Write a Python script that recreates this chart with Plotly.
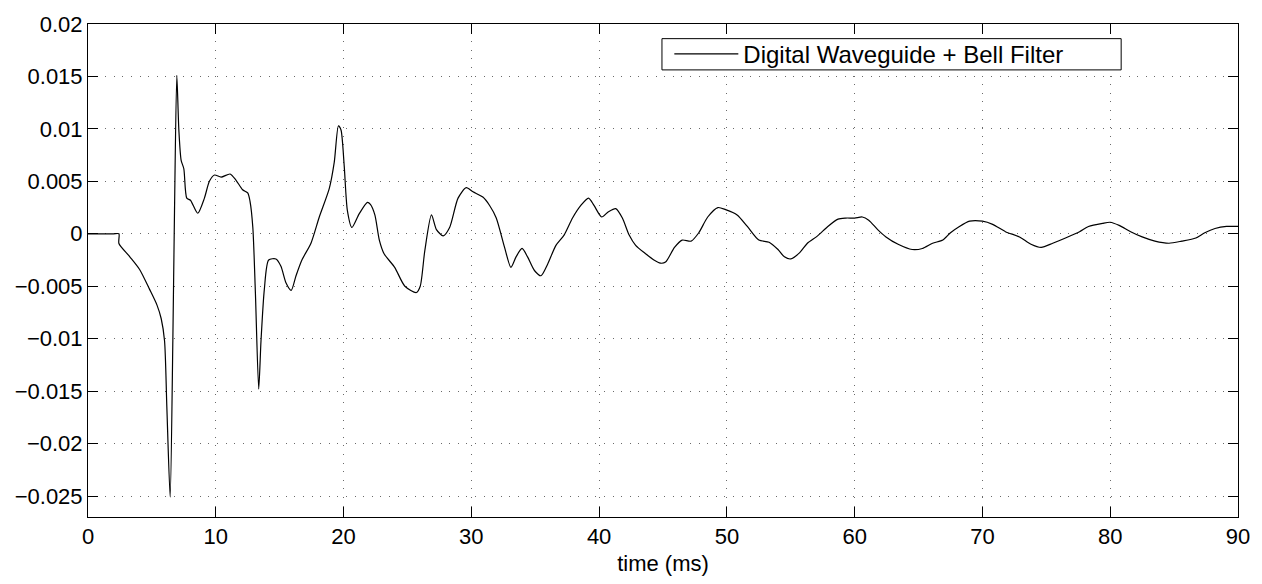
import plotly.graph_objects as go

# Impulse response of the waveguide model (time in ms, amplitude)
time_ms = [
    0, 2.0, 2.42, 2.42, 3.26, 4.04, 4.82, 5.4, 5.73, 5.99, 6.17, 6.43, 6.64, 6.77, 6.95,
    7.11, 7.29, 7.5, 7.73, 8.02, 8.59, 9.11, 9.5, 9.9, 10.42, 11.12, 11.59, 12.1,
    12.5, 12.68, 12.9, 13.1, 13.36, 13.54, 13.8, 14.14, 14.71, 15.1, 15.5, 15.9,
    16.28, 16.74, 17.45, 18.1, 18.88, 19.27, 19.6, 19.8, 20.05, 20.3, 20.65, 21.22,
    21.87, 22.1, 22.45, 22.8, 23.17, 24.0, 24.8, 25.7, 26.0, 26.36, 26.88, 27.27,
    27.8, 28.3, 28.96, 29.6, 30.13, 30.9, 31.43, 31.95, 32.6, 33.1, 33.5, 33.97,
    34.4, 34.94, 35.45, 35.97, 36.62, 37.27, 37.92, 38.57, 39.17, 39.6, 40.2, 40.73,
    41.3, 41.82, 42.34, 42.86, 43.64, 44.29, 44.8, 45.2, 45.9, 46.5, 47.2, 47.8,
    48.5, 49.3, 49.9, 50.8, 51.6, 52.5, 53.3, 54.0, 54.5, 55.0, 55.7, 56.3, 57.1,
    57.9, 58.7, 59.3, 60.0, 60.6, 61.1, 61.8, 62.45, 63.4, 64.5, 65.3, 66.1, 66.9,
    67.5, 68.2, 69.0, 70.0, 70.8, 71.8, 72.9, 73.8, 74.6, 75.5, 76.5, 77.6, 78.3,
    79.4, 80.0, 80.7, 81.6, 82.5, 83.5, 84.6, 85.6, 86.7, 87.4, 88.2, 89.1, 90.0,
]
amplitude = [
    0, 0, 0, -0.00093, -0.00217, -0.0034, -0.0053, -0.0068, -0.0081, -0.0102, -0.0165,
    -0.0251, -0.0102, 0.0022, 0.0151, 0.0099, 0.0070, 0.0062, 0.0034, 0.0032,
    0.00196, 0.0034, 0.0050, 0.0056, 0.0054, 0.0057, 0.0051, 0.0042, 0.0039, 0.0031,
    0.0006, -0.0056, -0.0148, -0.0102, -0.0053, -0.0025, -0.0024, -0.0031, -0.0047,
    -0.0054, -0.0040, -0.0025, -0.0009, 0.0016, 0.0043, 0.0068, 0.0103, 0.0099,
    0.0065, 0.0022, 0.0006, 0.0019, 0.0030, 0.0028, 0.0018, -0.0006, -0.0019,
    -0.0032, -0.0050, -0.0056, -0.0050, -0.0016, 0.0018, 0.0004, -0.0002, 0.0006,
    0.0034, 0.0044, 0.0040, 0.0035, 0.0027, 0.0015, -0.0013, -0.0032, -0.0022,
    -0.0014, -0.0022, -0.0035, -0.0040, -0.0029, -0.0011, -0.0001, 0.0015, 0.0027,
    0.0034, 0.0027, 0.0016, 0.0021, 0.0024, 0.0015, -0.0001, -0.0011, -0.0019,
    -0.0025, -0.0028, -0.0027, -0.0013, -0.0006, -0.0007, 0.0001, 0.0016, 0.0025,
    0.0023, 0.0018, 0.0007, -0.0006, -0.0008, -0.0015, -0.0022, -0.0024, -0.0018,
    -0.0009, -0.0002, 0.0007, 0.0014, 0.0015, 0.0015, 0.0016, 0.0013, 0.0004,
    -0.0003, -0.0010, -0.0015, -0.0014, -0.0009, -0.0006, 0.0001, 0.0007, 0.0012,
    0.0012, 0.0009, 0.0002, -0.0003, -0.0010, -0.0013, -0.0009, -0.0004, 0.0002,
    0.0007, 0.0010, 0.0011, 0.0008, 0.0002, -0.0003, -0.0007, -0.0009, -0.0007,
    -0.0004, 0.0001, 0.0005, 0.0007, 0.0007,
]

x_ticks = [0, 10, 20, 30, 40, 50, 60, 70, 80, 90]
y_ticks = [0.02, 0.015, 0.01, 0.005, 0, -0.005, -0.01, -0.015, -0.02, -0.025]
y_tick_labels = ["0.02", "0.015", "0.01", "0.005", "0",
                 "\u22120.005", "\u22120.01", "\u22120.015", "\u22120.02", "\u22120.025"]
series_name = "Digital Waveguide + Bell Filter"

FONT = "Liberation Sans, Arial, Helvetica, sans-serif"
FS = 22

fig = go.Figure()
fig.add_trace(go.Scatter(
    x=time_ms, y=amplitude, mode="lines", name=series_name,
    line=dict(color="black", width=1.2, shape="spline", smoothing=0.7),
    showlegend=True,
))

axis_common = dict(
    showline=True, linecolor="black", linewidth=1, mirror="allticks",
    ticks="inside", ticklen=10, tickcolor="black", tickwidth=1,
    showgrid=True, gridcolor="#6a6a6a", griddash="1px,7.6px", gridwidth=1,
    zeroline=False, tickfont=dict(family=FONT, size=FS, color="black"),
)

fig.update_xaxes(
    range=[0, 90], tickvals=x_ticks,
    title=dict(text="time (ms)", font=dict(family=FONT, size=FS, color="black"), standoff=7),
    **axis_common,
)
fig.update_yaxes(
    range=[-0.027, 0.02], tickvals=y_ticks, ticktext=y_tick_labels,
    **axis_common,
)

# Legend frame (white panel with black border, drawn above the grid)
fig.add_shape(
    type="rect", xref="paper", yref="paper",
    x0=0.4991, x1=0.8984, y0=0.9069, y1=0.9703,
    line=dict(color="black", width=1), fillcolor="white", layer="above",
)

fig.update_layout(
    width=1262, height=584,
    margin=dict(l=88, r=22, t=17, b=62),
    paper_bgcolor="white", plot_bgcolor="white",
    font=dict(family=FONT, size=FS, color="black"),
    legend=dict(
        x=0.5055, y=0.9386, xanchor="left", yanchor="middle",
        bgcolor="rgba(0,0,0,0)", borderwidth=0,
        orientation="h", itemwidth=64,
        font=dict(family=FONT, size=24, color="black"),
    ),
)

fig.write_html("out.html")
